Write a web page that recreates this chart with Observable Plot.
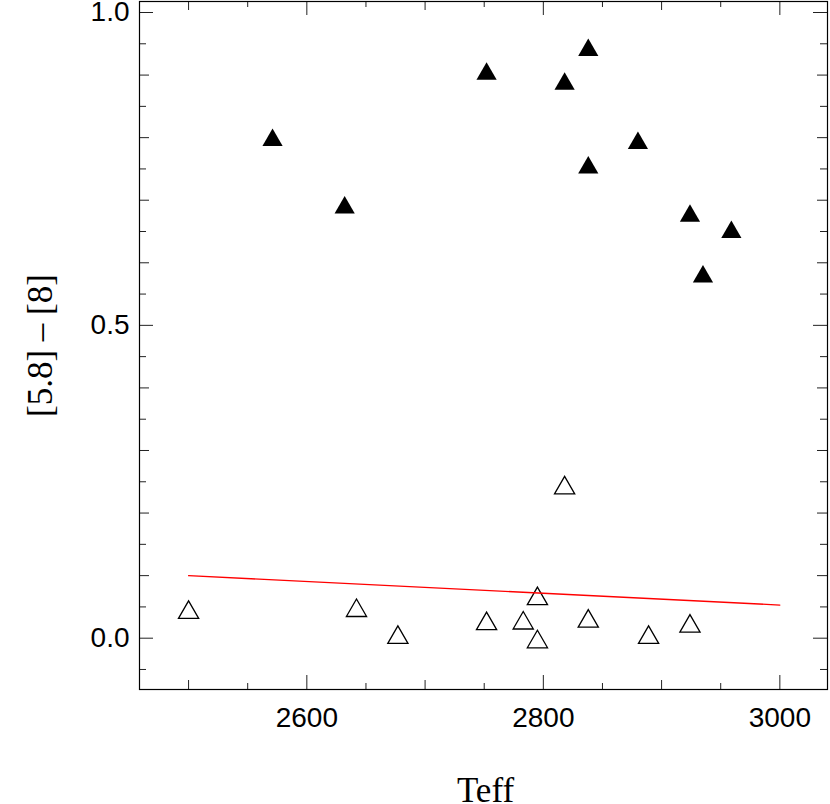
<!DOCTYPE html>
<html>
<head>
<meta charset="utf-8">
<script src="https://cdn.jsdelivr.net/npm/d3@7"></script>
<script src="https://cdn.jsdelivr.net/npm/@observablehq/plot@0.6"></script>
<style>
  html, body { margin: 0; padding: 0; background: #fff; }
  #chart svg { display: block; }
</style>
</head>
<body>
<div id="chart"></div>
<script>
// Filled triangles
const filledTeff  = [2571, 2632, 2752, 2838, 2818, 2880, 2838, 2924, 2959, 2935];
const filledColor = [0.796, 0.688, 0.902, 0.940, 0.886, 0.791, 0.752, 0.675, 0.649, 0.578];
// Open triangles
const openTeff  = [2500, 2642, 2677, 2752, 2818, 2783, 2795, 2795, 2838, 2889, 2924];
const openColor = [0.041, 0.044, 0.001, 0.023, 0.240, 0.024, 0.063, -0.006, 0.027, 0.001, 0.019];
// Red reference line
const lineTeff  = [2500, 3000];
const lineColor = [0.100, 0.053];

// Axis ticks
const xLabelTicks = [2600, 2800, 3000];
const xMidTicks   = [2500, 2700, 2900];
const xMinorTicks = [2550, 2650, 2750, 2850, 2950];
const yLabelTicks = [0.0, 0.5, 1.0];
const yMidTicks   = [0.1, 0.2, 0.3, 0.4, 0.6, 0.7, 0.8, 0.9];
const yMinorTicks = [-0.05, 0.05, 0.15, 0.25, 0.35, 0.45, 0.55, 0.65, 0.75, 0.85, 0.95];

const xTitle = "Teff";
const yTitle = "[5.8] – [8]";

const filled = filledTeff.map((t, i) => ({teff: t, c: filledColor[i]}));
const open = openTeff.map((t, i) => ({teff: t, c: openColor[i]}));
const line = lineTeff.map((t, i) => ({teff: t, c: lineColor[i]}));

const W = 830, H = 804;
const mL = 139, mR = 3, mT = 1, mB = 115;
const innerH = H - mT - mB;
const innerW = W - mL - mR;

const tickStroke = "#222";
function xTicks(vals, len) {
  return [
    Plot.ruleX(vals, {stroke: tickStroke, strokeWidth: 1, insetTop: innerH - len}),
    Plot.ruleX(vals, {stroke: tickStroke, strokeWidth: 1, insetBottom: innerH - len})
  ];
}
function yTicks(vals, len) {
  return [
    Plot.ruleY(vals, {stroke: tickStroke, strokeWidth: 1, insetRight: innerW - len}),
    Plot.ruleY(vals, {stroke: tickStroke, strokeWidth: 1, insetLeft: innerW - len})
  ];
}

const chart = Plot.plot({
  width: W,
  height: H,
  marginLeft: mL,
  marginRight: mR,
  marginTop: mT,
  marginBottom: mB,
  style: {background: "#fff", color: "#000", fontFamily: "'Liberation Sans', Arial, sans-serif"},
  x: {domain: [2458.5, 3040.3]},
  y: {domain: [-0.082, 1.0176]},
  marks: [
    ...xTicks(xMinorTicks, 6),
    ...xTicks(xMidTicks, 9),
    ...xTicks(xLabelTicks, 14),
    ...yTicks(yMinorTicks, 7),
    ...yTicks(yMidTicks, 10),
    ...yTicks(yLabelTicks, 14),
    Plot.axisX({ticks: xLabelTicks, tickSize: 0, tickPadding: 18, fontSize: 28, tickFormat: d => String(d), label: null}),
    Plot.axisY({ticks: yLabelTicks, tickSize: 0, tickPadding: 10, fontSize: 28, tickFormat: d => d.toFixed(1), label: null}),
    Plot.frame({stroke: "#000", strokeWidth: 1.2}),
    Plot.dot(filled, {x: "teff", y: "c", symbol: "triangle", r: 7.5, fill: "#000", stroke: "none"}),
    Plot.dot(open, {x: "teff", y: "c", symbol: "triangle", r: 7.5, fill: "none", stroke: "#000", strokeWidth: 1.3}),
    Plot.line(line, {x: "teff", y: "c", stroke: "#ff0000", strokeWidth: 1.3}),
    Plot.text([xTitle], {frameAnchor: "bottom", lineAnchor: "bottom", textAnchor: "middle", dy: 112, dx: 2, text: d => d,
      fontSize: 35, fontFamily: "'Liberation Serif', 'Times New Roman', serif", fill: "#000"}),
    Plot.text([yTitle], {frameAnchor: "left", lineAnchor: "bottom", textAnchor: "middle", rotate: -90, dx: -87.5, text: d => d,
      fontSize: 35, fontFamily: "'Liberation Serif', 'Times New Roman', serif", fill: "#000"})
  ]
});
document.getElementById("chart").appendChild(chart);
</script>
</body>
</html>
